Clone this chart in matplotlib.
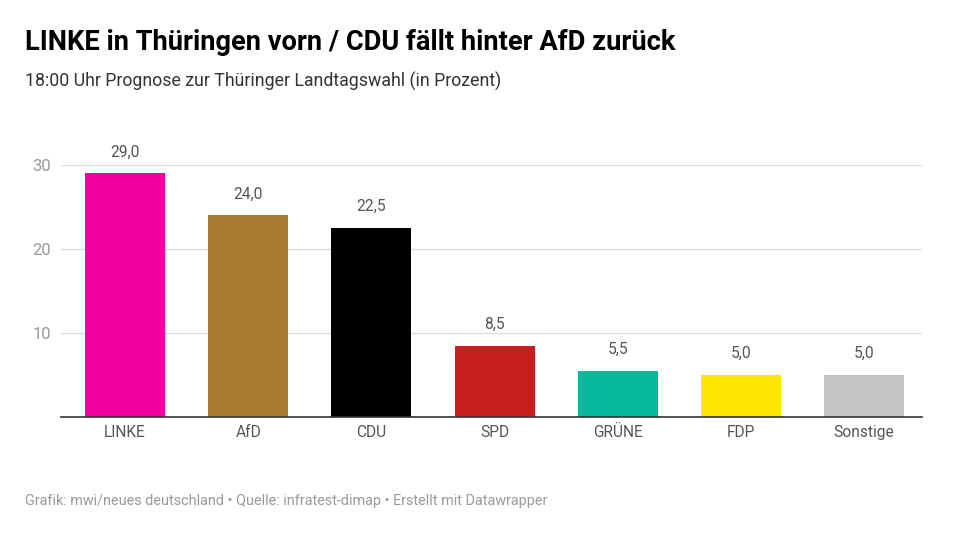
"""18:00 forecast bar chart for the Thuringia state election."""

import matplotlib

matplotlib.use("Agg")

import matplotlib.pyplot as plt

parties = ["LINKE", "AfD", "CDU", "SPD", "GRÜNE", "FDP", "Sonstige"]
values = [29.0, 24.0, 22.5, 8.5, 5.5, 5.0, 5.0]
colors = ["#F000A0", "#A87C32", "#000000", "#C81E1E", "#08BA9C", "#FFE600", "#C4C4C4"]
y_ticks = [10, 20, 30]

plt.rcParams["font.family"] = "Roboto"

W, H = 960, 544
fig = plt.figure(figsize=(W / 100, H / 100), dpi=100)
# axes span in pixels: x 61-922, y 165 (value 30) to 417 (value 0)
ax = fig.add_axes([61 / W, 1 - 417 / H, (922 - 61) / W, (417 - 165) / H])

ax.bar(parties, values, width=0.65, color=colors, zorder=2)
ax.set_xlim(-0.52, 6.47)
ax.set_ylim(0, 30)

ax.set_yticks(y_ticks)
ax.set_yticklabels([str(t) for t in y_ticks], fontsize=12, color="#999999")
ax.grid(axis="y", color="#DDDDDD", linewidth=1, zorder=1)
ax.tick_params(axis="y", length=0, pad=7)
ax.tick_params(axis="x", length=0, pad=5.5, labelsize=11.2, labelcolor="#555555")

for side in ["top", "left", "right"]:
    ax.spines[side].set_visible(False)
ax.spines["bottom"].set_color("#333333")
ax.spines["bottom"].set_linewidth(1.2)

for i, v in enumerate(values):
    ax.annotate(f"{v:.1f}".replace(".", ","), (i, v), xytext=(0, 10),
                textcoords="offset points", ha="center", va="bottom",
                fontsize=11.2, color="#555555", annotation_clip=False)

fig.text(25 / W, 1 - 42.5 / H, "LINKE in Thüringen vorn / CDU fällt hinter AfD zurück",
         fontsize=19.6, fontweight="bold", color="#000000", va="center")
fig.text(25 / W, 1 - 81.5 / H, "18:00 Uhr Prognose zur Thüringer Landtagswahl (in Prozent)",
         fontsize=12.8, color="#333333", va="center")
fig.text(25 / W, 1 - 500.5 / H,
         "Grafik: mwi/neues deutschland • Quelle: infratest-dimap • Erstellt mit Datawrapper",
         fontsize=10.4, color="#999999", va="center")

fig.savefig("out.png", dpi=100)
plt.close(fig)
